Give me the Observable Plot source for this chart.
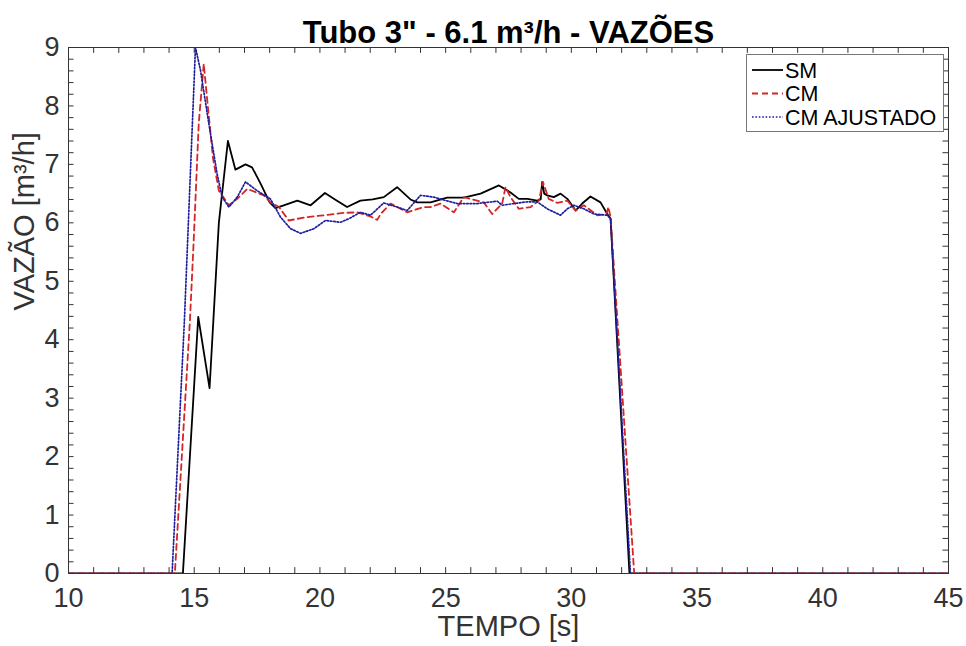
<!DOCTYPE html>
<html><head><meta charset="utf-8">
<script src="https://cdn.jsdelivr.net/npm/d3@7"></script>
<script src="https://cdn.jsdelivr.net/npm/@observablehq/plot@0.6"></script>
<style>
body{margin:0;background:#fff;}
#wrap{position:relative;width:966px;height:646px;}
#legend{position:absolute;left:0;top:0;}
</style></head><body><div id="wrap"></div>
<script>
// ---- data ----
const seriesNames = ["SM", "CM", "CM AJUSTADO"];
const smT = [10, 14.55, 15.16, 15.61, 15.98, 16.34, 16.64, 17.04, 17.3, 17.64, 18.0, 18.23, 18.56, 19.1, 19.63, 20.2, 20.6, 21.08, 21.61, 22.1, 22.54, 23.07, 23.6, 23.87, 24.4, 25.06, 25.72, 26.39, 27.12, 27.58, 27.91, 28.25, 28.64, 28.78, 28.84, 28.92, 29.04, 29.3, 29.57, 29.84, 30.17, 30.43, 30.76, 31.16, 31.43, 31.56, 32.31, 45];
const smV = [0, 0, 4.39, 3.17, 6.0, 7.40, 6.91, 7.0, 6.95, 6.67, 6.35, 6.25, 6.30, 6.38, 6.30, 6.51, 6.40, 6.27, 6.38, 6.40, 6.44, 6.61, 6.40, 6.35, 6.35, 6.43, 6.43, 6.50, 6.64, 6.52, 6.41, 6.41, 6.38, 6.40, 6.70, 6.50, 6.47, 6.44, 6.50, 6.41, 6.21, 6.33, 6.45, 6.35, 6.15, 6.07, 0, 0];
const cmT = [10, 14.23, 14.83, 14.98, 15.18, 15.38, 15.52, 15.75, 15.98, 16.38, 16.71, 17.11, 17.77, 18.03, 18.37, 18.76, 19.36, 20.16, 20.95, 21.48, 22.01, 22.28, 22.41, 22.81, 23.47, 24.13, 24.4, 24.8, 25.33, 25.72, 26.52, 26.85, 27.25, 27.38, 27.58, 27.91, 28.38, 28.71, 28.87, 29.1, 29.44, 29.84, 30.17, 30.5, 31.03, 31.4, 31.47, 31.56, 32.5, 45];
const cmV = [0, 0, 4.33, 5.70, 7.70, 8.72, 8.09, 7.1, 6.55, 6.30, 6.41, 6.58, 6.47, 6.35, 6.27, 6.04, 6.09, 6.13, 6.17, 6.18, 6.11, 6.05, 6.15, 6.33, 6.18, 6.27, 6.27, 6.33, 6.18, 6.44, 6.35, 6.15, 6.33, 6.61, 6.44, 6.24, 6.27, 6.38, 6.70, 6.41, 6.34, 6.38, 6.21, 6.30, 6.13, 6.15, 6.27, 6.10, 0, 0];
const cmaT = [10, 14.12, 14.61, 15.05, 15.25, 15.58, 15.91, 16.11, 16.38, 16.71, 17.04, 17.5, 18.03, 18.43, 18.83, 19.23, 19.76, 20.22, 20.82, 21.15, 21.61, 22.01, 22.54, 23.07, 23.47, 24.0, 24.53, 24.93, 25.46, 26.26, 27.05, 27.25, 27.71, 28.25, 28.64, 29.04, 29.57, 29.84, 30.1, 30.5, 30.9, 31.43, 31.56, 32.35, 45];
const cmaV = [0, 0, 4.33, 9.0, 8.61, 7.70, 6.84, 6.44, 6.27, 6.44, 6.70, 6.55, 6.41, 6.10, 5.90, 5.82, 5.90, 6.04, 6.01, 6.07, 6.18, 6.13, 6.34, 6.27, 6.21, 6.47, 6.44, 6.39, 6.33, 6.33, 6.37, 6.30, 6.33, 6.36, 6.36, 6.24, 6.13, 6.24, 6.30, 6.24, 6.15, 6.13, 6.07, 0, 0];
const xMajor = [10, 15, 20, 25, 30, 35, 40, 45];
const yMajor = [0, 1, 2, 3, 4, 5, 6, 7, 8, 9];
const xMinor = d3.range(10, 46, 1);
const yMinor = d3.range(0, 46).map(i => +(i * 0.2).toFixed(1));
const titleText = 'Tubo 3" - 6.1 m³/h - VAZÕES';
const xLabel = "TEMPO [s]";
const yLabel = "VAZÃO [m³/h]";

// ---- styles ----
const colors = ["#000000", "#d42626", "#1e1e9e"];
const dashes = [null, "6,4", "1.6,1.8"];
const widths = [1.8, 1.8, 1.7];
const font = "'Liberation Sans', Arial, sans-serif";
const axisColor = "#333333";
const tickLenX = 0.1;   // in y units (~6px)
const tickLenY = 0.22;  // in x units (~5.5px)

const toRows = (T, V) => T.map((t, i) => ({t, v: V[i]}));
const data = [toRows(smT, smV), toRows(cmT, cmV), toRows(cmaT, cmaV)];

const chart = Plot.plot({
  width: 966, height: 646,
  marginLeft: 68, marginRight: 18, marginTop: 47, marginBottom: 73,
  style: {fontFamily: font, background: "#fff", color: axisColor, overflow: "visible"},
  x: {domain: [10, 45]},
  y: {domain: [0, 9]},
  marks: [
    // inward ticks on all four sides
    Plot.ruleX(xMinor, {x: d => d, y1: 0, y2: tickLenX, stroke: axisColor, strokeWidth: 1}),
    Plot.ruleX(xMinor, {x: d => d, y1: 9, y2: 9 - tickLenX, stroke: axisColor, strokeWidth: 1}),
    Plot.ruleY(yMinor, {y: d => d, x1: 10, x2: 10 + tickLenY, stroke: axisColor, strokeWidth: 1}),
    Plot.ruleY(yMinor, {y: d => d, x1: 45, x2: 45 - tickLenY, stroke: axisColor, strokeWidth: 1}),
    ...data.map((rows, i) => Plot.line(rows, {x: "t", y: "v", stroke: colors[i], strokeWidth: widths[i], strokeDasharray: dashes[i], clip: true})),
    Plot.frame({stroke: axisColor, strokeWidth: 1}),
    // tick labels
    Plot.axisX({ticks: xMajor, anchor: "bottom", tickSize: 0, tickPadding: 14, fontSize: 27, label: null}),
    Plot.axisY({ticks: yMajor, anchor: "left", tickSize: 0, tickPadding: 9, fontSize: 27, label: null}),
    // title & axis labels
    Plot.text([titleText], {frameAnchor: "top", text: d => d, dy: -5, lineAnchor: "bottom", fontSize: 31, fontWeight: "bold", fill: "#000"}),
    Plot.text([xLabel], {frameAnchor: "bottom", text: d => d, dy: 62, fontSize: 29, fill: axisColor}),
    Plot.text([yLabel], {frameAnchor: "left", text: d => d, dx: -44, rotate: -90, fontSize: 29, fill: axisColor})
  ]
});
const wrap = document.getElementById("wrap");
wrap.appendChild(chart);

// ---- legend overlay ----
const lg = d3.select(wrap).append("svg").attr("id", "legend").attr("width", 966).attr("height", 646)
  .style("pointer-events", "none");
const box = {x: 746, y: 54, w: 197, h: 77};
lg.append("rect").attr("x", box.x + 0.5).attr("y", box.y + 0.5).attr("width", box.w).attr("height", box.h)
  .attr("fill", "#fff").attr("stroke", "#777").attr("stroke-width", 1);
seriesNames.forEach((name, i) => {
  const cy = box.y + 16 + i * 23.5;
  lg.append("line").attr("x1", box.x + 6).attr("x2", box.x + 37).attr("y1", cy).attr("y2", cy)
    .attr("stroke", colors[i]).attr("stroke-width", widths[i]).attr("stroke-dasharray", dashes[i]);
  lg.append("text").attr("x", box.x + 39).attr("y", cy).attr("dy", "0.35em")
    .attr("font-family", font).attr("font-size", 21.5).attr("fill", "#000").text(name);
});
</script></body></html>
